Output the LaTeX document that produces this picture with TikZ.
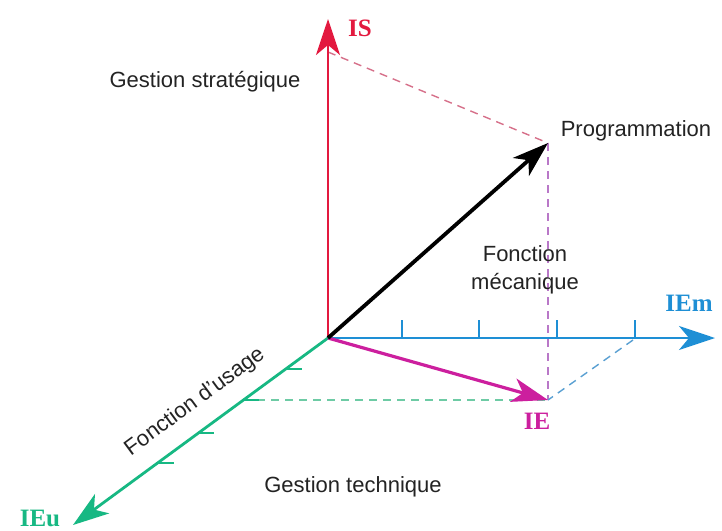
\documentclass[tikz,border=0pt]{standalone}
\usepackage{fontspec}
\setmainfont{Liberation Sans}
\newfontfamily\axfont{Liberation Serif}
\usepackage{xcolor}
\usetikzlibrary{arrows.meta}

\definecolor{isred}{RGB}{227,25,63}
\definecolor{emblue}{RGB}{30,143,213}
\definecolor{eugreen}{RGB}{23,184,131}
\definecolor{iemag}{RGB}{204,31,158}
\definecolor{dred}{RGB}{214,112,138}
\definecolor{dmag}{RGB}{185,120,200}
\definecolor{dblue}{RGB}{90,160,210}
\definecolor{dgreen}{RGB}{110,203,165}
\definecolor{txt}{RGB}{35,35,35}

\begin{document}
\begin{tikzpicture}[
    x=1pt, y=-1pt,
    axis/.style={line width=2.8pt, -{Stealth[length=36pt, width=24pt, inset=10pt]}},
    vec/.style={line width=3.2pt, -{Stealth[length=36pt, width=24pt, inset=10pt]}},
    proj/.style={line width=1.4pt, dash pattern=on 8pt off 6pt},
    tick/.style={line width=1.4pt},
    lbl/.style={font=\fontsize{22}{28}\selectfont, text=txt, align=center, inner sep=0pt},
    axlbl/.style={font=\axfont\bfseries\fontsize{25}{28}\selectfont, inner sep=0pt},
]
\useasboundingbox (0,0) rectangle (722,530);

% Points
\coordinate (o) at (328,338);
\coordinate (istip) at (328,19);
\coordinate (emtip) at (715,338);
\coordinate (eutip) at (73,525);
\coordinate (prog) at (548,143);
\coordinate (ie) at (548,400);
\coordinate (isp) at (328,52);
\coordinate (emp) at (633,340);
\coordinate (eup) at (243,400);

% Projections
\draw[proj, dred] (isp) -- (prog);
\draw[proj, dmag] (prog) -- (ie);
\draw[proj, dblue] (emp) -- (ie);
\draw[proj, dgreen] (eup) -- (ie);

% Ticks
\foreach \x in {402,479,557,635}
  \draw[tick, emblue] (\x,338) -- ++(0,-18);
\foreach \y in {369,400,433,463}
  \draw[tick, eugreen] ({328-1.3636*(\y-338)},\y) -- ++(16,0);

% Axes
\draw[axis, isred] (o) -- (istip);
\draw[axis, emblue] (o) -- (emtip);
\draw[axis, eugreen] (o) -- (eutip);

% Vectors
\draw[vec, iemag] (o) -- (ie);
\draw[vec, black, line width=3.8pt] (o) -- (prog);

% Labels
\node[axlbl, isred] (is) at (360,28) {IS};
\node[axlbl, emblue] (iem) at (689,303) {IEm};
\node[axlbl, iemag] (iel) at (537,421) {IE};
\node[axlbl, eugreen] (ieu) at (40,518) {IEu};

\node[lbl] (gs) at (205,82) {Gestion stratégique};
\node[lbl] (pr) at (636,131) {Programmation};
\node[lbl] (fm) at (525,270) {Fonction\\mécanique};
\node[lbl, rotate=36.3] (fu) at (195,402) {Fonction d'usage};
\node[lbl] (gt) at (353,487) {Gestion technique};
\end{tikzpicture}
\end{document}
